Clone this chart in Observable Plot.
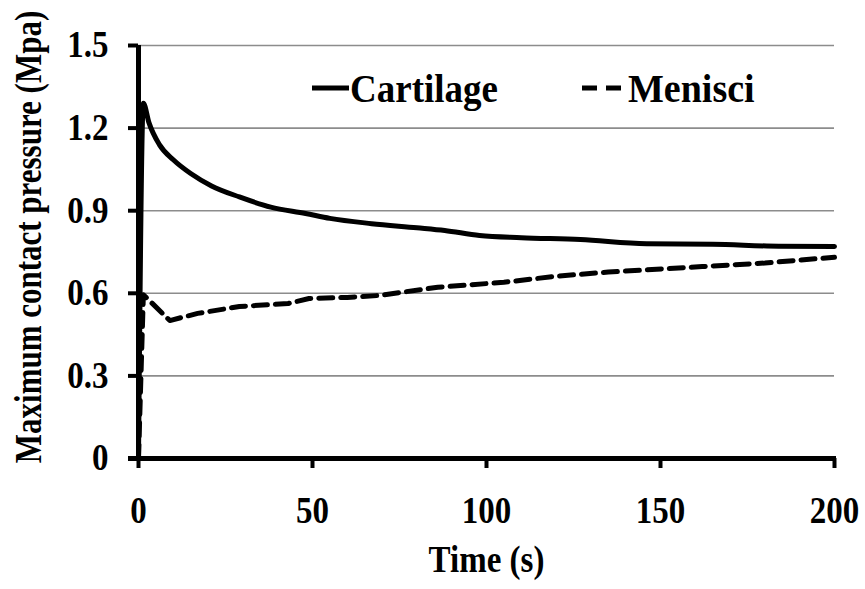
<!DOCTYPE html>
<html>
<head>
<meta charset="utf-8">
<script src="https://cdn.jsdelivr.net/npm/d3@7"></script>
<script src="https://cdn.jsdelivr.net/npm/@observablehq/plot@0.6"></script>
<style>
  html, body { margin: 0; padding: 0; background: white; }
  #chart { width: 865px; height: 589px; }
</style>
</head>
<body>
<div id="chart"></div>
<script>
// Cartilage series (time in s, max contact pressure in MPa)
const cartilageTime = [0, 1.4, 3, 6, 10, 15, 21, 29, 38, 48, 55, 67, 80, 88, 98, 110, 127, 146, 165, 184, 200];
const cartilageValue = [0, 1.29, 1.22, 1.14, 1.085, 1.035, 0.99, 0.95, 0.913, 0.89, 0.872, 0.853, 0.838, 0.828, 0.81, 0.802, 0.795, 0.78, 0.778, 0.771, 0.77];

// Menisci series
const menisciTime = [0, 1.4, 9, 17, 29, 43, 49, 60, 69, 86, 105, 120, 135, 162, 180, 200];
const menisciValue = [0, 0.595, 0.501, 0.527, 0.552, 0.563, 0.581, 0.585, 0.592, 0.622, 0.64, 0.662, 0.677, 0.697, 0.71, 0.731];

const xTicks = [0, 50, 100, 150, 200];
const yTicks = [0, 0.3, 0.6, 0.9, 1.2, 1.5];
const seriesNames = ["Cartilage", "Menisci"];
const xLabel = "Time (s)";
const yLabel = "Maximum contact pressure (Mpa)";

const cartilage = cartilageTime.map((t, i) => ({t, v: cartilageValue[i]}));
const menisci = menisciTime.map((t, i) => ({t, v: menisciValue[i]}));

const FONT = "'Liberation Serif', 'Times New Roman', serif";

function legend(index, scales, values, dimensions) {
  const g = d3.create("svg:g");
  const y = 88;
  g.append("line").attr("x1", 312).attr("x2", 349).attr("y1", y).attr("y2", y)
    .attr("stroke", "black").attr("stroke-width", 5);
  g.append("text").attr("x", 350).attr("y", y).attr("dy", "0.35em").attr("text-anchor", "start")
    .attr("font-size", 37).attr("font-weight", "bold").attr("font-family", FONT)
    .attr("fill", "black").text(seriesNames[0]);
  g.append("line").attr("x1", 582).attr("x2", 622).attr("y1", y).attr("y2", y)
    .attr("stroke", "black").attr("stroke-width", 5).attr("stroke-dasharray", "15,9");
  g.append("text").attr("x", 628).attr("y", y).attr("dy", "0.35em").attr("text-anchor", "start")
    .attr("font-size", 38).attr("font-weight", "bold").attr("font-family", FONT)
    .attr("fill", "black").text(seriesNames[1]);
  return g.node();
}

const chart = Plot.plot({
  width: 865,
  height: 589,
  marginLeft: 138,
  marginRight: 31,
  marginTop: 45,
  marginBottom: 131,
  style: {fontFamily: FONT, fontWeight: "bold", background: "white", color: "black", overflow: "visible"},
  x: {domain: [0, 200]},
  y: {domain: [0, 1.5]},
  marks: [
    Plot.gridY(yTicks.filter(d => d > 0), {stroke: "#8c8c8c", strokeOpacity: 1, strokeWidth: 1.6}),
    Plot.line(menisci, {x: "t", y: "v", stroke: "black", strokeWidth: 5, strokeDasharray: "14,8"}),
    Plot.line(cartilage, {x: "t", y: "v", stroke: "black", strokeWidth: 5, curve: "monotone-x"}),
    Plot.ruleX([0], {y1: 0, y2: 1.5, stroke: "black", strokeWidth: 5}),
    Plot.ruleY([0], {x1: 0, x2: 200, stroke: "black", strokeWidth: 5, insetLeft: -10, insetRight: -2}),
    Plot.axisY(yTicks, {tickSize: 10, strokeWidth: 4, tickPadding: 20, fontSize: 33, fontWeight: "bold",
      tickFormat: d => d === 0 ? "0" : d.toFixed(1), label: null}),
    Plot.axisX(xTicks, {tickSize: 10, strokeWidth: 4, tickPadding: 28, fontSize: 33, fontWeight: "bold", label: null}),
    Plot.text([xLabel], {frameAnchor: "bottom", dy: 102, lineAnchor: "middle", fontSize: 33, fontWeight: "bold", fill: "black"}),
    Plot.text([yLabel], {frameAnchor: "left", textAnchor: "middle", rotate: -90, dx: -110, dy: -15, lineAnchor: "middle", fontSize: 31, fontWeight: "bold", fill: "black"}),
    legend
  ]
});
document.getElementById("chart").appendChild(chart);

// Reference type is taller / narrower than Liberation Serif: enlarge glyphs but keep the same text length.
function stretch(el, factor) {
  const len = el.getComputedTextLength();
  const fs = parseFloat(getComputedStyle(el).fontSize);
  el.setAttribute("font-size", fs * factor);
  el.style.fontSize = (fs * factor) + "px";
  el.setAttribute("textLength", len);
  el.setAttribute("lengthAdjust", "spacingAndGlyphs");
}
chart.querySelectorAll("text").forEach(el => {
  const t = el.textContent;
  if (t === yLabel) {
    // stretch the rotated label's glyphs across its baseline only
    const tr = el.getAttribute("transform") || "";
    el.setAttribute("transform", tr + " scale(1,1.25)");
  }
  else if (t === seriesNames[0] || t === seriesNames[1]) stretch(el, 1.08);
  else stretch(el, 1.12);
});
</script>
</body>
</html>
